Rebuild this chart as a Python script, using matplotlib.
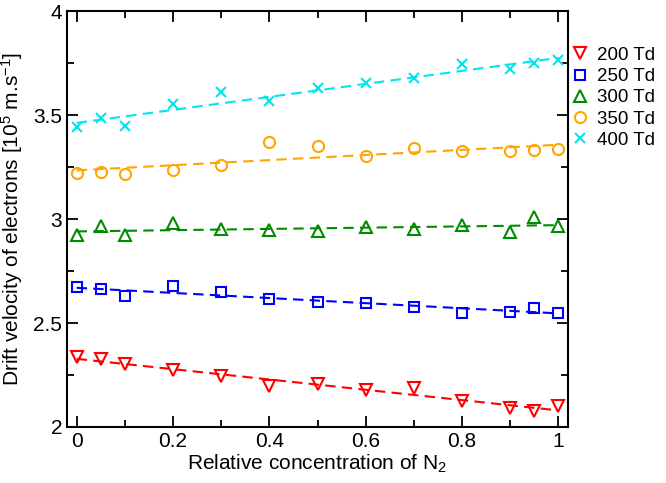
import matplotlib
matplotlib.use('Agg')
import matplotlib.pyplot as plt
from matplotlib.ticker import MultipleLocator, FuncFormatter
import numpy as np

plt.rcParams['font.family'] = ['Liberation Sans', 'DejaVu Sans']
plt.rcParams['mathtext.default'] = 'regular'

conc = [0, 0.05, 0.1, 0.2, 0.3, 0.4, 0.5, 0.6, 0.7, 0.8, 0.9, 0.95, 1.0]

v200 = [2.335, 2.327, 2.304, 2.272, 2.247, 2.196, 2.208, 2.179, 2.187, 2.125, 2.090, 2.078, 2.099]
v250 = [2.673, 2.662, 2.628, 2.676, 2.647, 2.615, 2.601, 2.595, 2.579, 2.550, 2.553, 2.572, 2.550]
v300 = [2.922, 2.965, 2.922, 2.979, 2.952, 2.946, 2.942, 2.962, 2.952, 2.971, 2.936, 3.008, 2.965]
v350 = [3.223, 3.224, 3.215, 3.236, 3.260, 3.372, 3.351, 3.303, 3.341, 3.328, 3.327, 3.330, 3.335]
v400 = [3.442, 3.484, 3.449, 3.551, 3.609, 3.567, 3.628, 3.654, 3.679, 3.745, 3.723, 3.750, 3.763]

labels = ['200 Td', '250 Td', '300 Td', '350 Td', '400 Td']
series = [v200, v250, v300, v350, v400]
colors = ['#ff0000', '#0000ff', '#008c00', '#ffa500', '#00e5ee']
markers = ['v', 's', '^', 'o', 'x']
sizes = [8, 7.5, 8, 8, 7.5]

fig = plt.figure(figsize=(6.66, 4.83), dpi=100)
ax = fig.add_axes([0.1006, 0.116, 0.7524, 0.861])

x = np.array(conc)
handles = []
for vals, lab, c, m, s in zip(series, labels, colors, markers, sizes):
    # linear fit drawn as dashed line
    p = np.polyfit(x, vals, 1)
    ax.plot(x, np.polyval(p, x), color=c, lw=1.5, dashes=(5, 3))
    h, = ax.plot(x, vals, linestyle='none', marker=m, ms=s,
                 mfc='none', mec=c, mew=1.5, label=lab)
    handles.append(h)

ax.set_xlim(-0.02, 1.02)
ax.set_ylim(2, 4)
ax.xaxis.set_major_locator(MultipleLocator(0.2))
ax.xaxis.set_minor_locator(MultipleLocator(0.1))
ax.yaxis.set_major_locator(MultipleLocator(0.5))
ax.yaxis.set_minor_locator(MultipleLocator(0.25))
ax.tick_params(which='both', direction='in', top=True, right=True, width=1.3, labelsize=15)
ax.tick_params(which='major', length=8)
ax.tick_params(which='minor', length=5)
for sp in ax.spines.values():
    sp.set_linewidth(1.5)

fmt = FuncFormatter(lambda v, pos: '%g' % v)
ax.xaxis.set_major_formatter(fmt)
ax.yaxis.set_major_formatter(fmt)

ax.set_xlabel('Relative concentration of N$_2$', fontsize=15, labelpad=1)
ax.set_ylabel('Drift velocity of electrons [10$^5$ m.s$^{-1}$]', fontsize=15, labelpad=6)

fig.legend(handles=handles, loc='upper left', bbox_to_anchor=(0.86, 0.903),
           frameon=False, fontsize=13.5, handlelength=0.8, handletextpad=0.5,
           labelspacing=0.22, borderaxespad=0, borderpad=0)

fig.savefig('out.png', dpi=100)
